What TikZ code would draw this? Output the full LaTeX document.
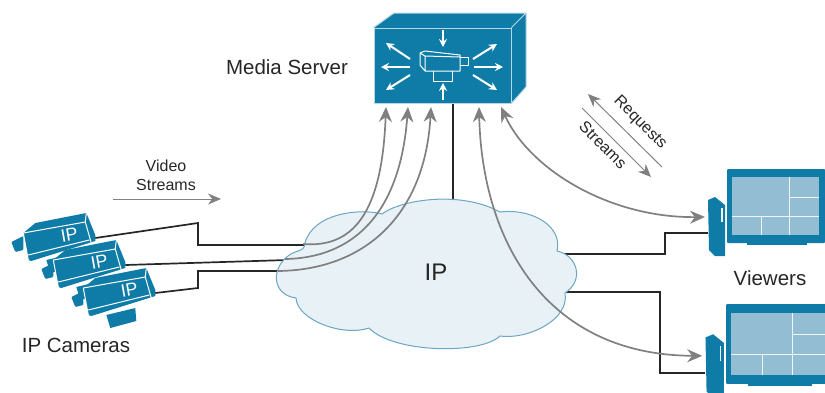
\documentclass[tikz,border=0pt]{standalone}
\usepackage{fontspec}
\setmainfont{Liberation Sans}
\usetikzlibrary{arrows.meta}
\definecolor{ciscoblue}{HTML}{0F7CA8}
\definecolor{screenblue}{HTML}{93BDD3}
\definecolor{cloudfill}{HTML}{E8F1F6}
\definecolor{cloudline}{HTML}{6BA6C4}
\definecolor{streamgray}{HTML}{808080}

\tikzset{
    x=1pt, y=-1pt,
    label/.style={font=\fontsize{20.5}{24}\selectfont, text=black!85, inner sep=0pt},
    smalllabel/.style={font=\fontsize{16}{19}\selectfont, text=black!85, inner sep=0pt, align=center},
    wire/.style={draw=black!85, line width=1.7pt},
    stream/.style={draw=streamgray, line width=1.7pt, {Stealth[length=15pt,width=13pt]}-{Stealth[length=15pt,width=13pt]}},
    instream/.style={draw=streamgray, line width=1.7pt, -{Stealth[length=15pt,width=13pt]}},
    thinarr/.style={draw=streamgray, line width=1pt, -{Stealth[length=13pt,width=11pt]}},
    iconline/.style={draw=white, line width=1pt, line join=round},
    whitearr/.style={draw=white, line width=2pt, -{Stealth[length=8pt,width=8pt]}},
    ipcam/.pic={
        % stand, lens, body
        \fill[ciscoblue] (23,27) -- (52,20) -- (53,33) -- (27,40) -- cycle;
        \fill[ciscoblue, rounded corners=1pt] (-12,9) -- (0,3) -- (0,17) -- (-8,19) -- cycle;
        \fill[ciscoblue] (0,0) -- (12,-10) -- (63,-20) -- (72,2) -- (72,8) -- (8,28) -- (5,27) -- cycle;
        \draw[iconline] (0,0) -- (62,-11) -- (63,-20) (62,-11) -- (68,10) (5,22) -- (66,7) (0,0) -- (5,27);
        \node[font=\fontsize{18}{20}\selectfont, text=white, inner sep=0pt, rotate=10] (-text) at (46,2) {IP};
        \coordinate (-out) at (72,5);
    },
    viewer/.pic={
        \fill[ciscoblue] (20,73) rectangle (80,76);
        \fill[ciscoblue, rounded corners=1pt] (0,0) rectangle (98,74);
        \fill[screenblue] (5,8) rectangle (92,66);
        \draw[draw=white!85!screenblue, line width=1pt] (62,8) -- (62,66) (5,47) -- (92,47) (62,28) -- (92,28) (34,47) -- (34,66);
        \fill[ciscoblue] (-19,31) -- (-12,28) -- (-2,36) -- (-2,87) -- (-12,87) -- (-18,81) -- cycle;
        \draw[draw=white!85!screenblue, line width=1.2pt] (-5,39) -- (-5,53);
        \coordinate (-tower) at (-19,64);
        \coordinate (-tip) at (-22,48);
    },
}

\begin{document}
\begin{tikzpicture}
\clip (0,0) rectangle (825,392);

% IP cameras
\pic (camA) at (23.3,233) {ipcam};
\pic (camB) at (53.3,260) {ipcam};
\pic (camC) at (83.3,288) {ipcam};
\node[label] (camtitle) at (76,345) {IP Cameras};

% Viewers
\pic (viewA) at (727,169) {viewer};
\pic[scale=1.08] (viewB) at (726,304) {viewer};
\node[label] (viewtitle) at (770,278) {Viewers};

% Media server
\fill[ciscoblue] (394,13) -- (526,13) -- (526,87) -- (511,103) -- (374,103) -- (374,28) -- cycle;
\node[draw=white!70!ciscoblue, fill=ciscoblue, line width=1pt, minimum width=137pt, minimum height=75pt, inner sep=0pt] (server) at (442.5,65.5) {};
\draw[draw=white!70!ciscoblue, line width=1pt] (server.north west) -- (394,13) -- (526,13) -- (526,87) -- (server.south east) (server.north east) -- (526,13);
\node[label] (servertitle) at (287,67) {Media Server};

% Server icon
\draw[iconline] (420,53) -- (425,51) -- (460,55) -- (460,71) -- (425,71) -- (420,65) -- cycle (425,56) -- (460,57) (425,56) -- (425,71) (420,53) -- (425,56);
\draw[iconline] (460,57) -- (468,57) -- (468,65) -- (460,65);
\draw[iconline] (433,71) -- (433,81) -- (452,81) -- (452,71);
\draw[whitearr] (443,30) -- (443,47);
\draw[whitearr] (443,100) -- (443,83);
\draw[whitearr] (410,67) -- (381,67);
\draw[whitearr] (410,59) -- (386,43);
\draw[whitearr] (410,75) -- (386,90);
\draw[whitearr] (474,67) -- (503,67);
\draw[whitearr] (473,59) -- (497,44);
\draw[whitearr] (473,75) -- (497,90);

% Points on the cloud
\coordinate (cloudA) at (320,245);
\coordinate (cloudB) at (320,259);
\coordinate (cloudC) at (320,271);
\coordinate (cloudTop) at (453,210);
\coordinate (cloudD) at (550,254);
\coordinate (cloudE) at (550,292);

% Black links, under the cloud
\draw[wire] (camA-out) -- (198,223) |- (cloudA);
\draw[wire] (camB-out) -- (cloudB);
\draw[wire] (camC-out) -- (198,288) |- (cloudC);
\draw[wire] (server.south -| cloudTop) -- (cloudTop);
\draw[wire] (cloudD) -- (665,254) |- (viewA-tower);
\draw[wire] (cloudE) -- (660,292) |- (viewB-tower);

% Cloud
\fill[cloudfill, draw=cloudline, line width=1pt] (305,243)
    .. controls (313,213) and (360,208) .. (382,214)
    .. controls (400,200) and (460,190) .. (500,212)
    .. controls (533,208) and (563,227) .. (557,251)
    .. controls (577,255) and (585,280) .. (565,293)
    .. controls (570,320) and (527,340) .. (500,336)
    .. controls (480,355) and (393,353) .. (369,328)
    .. controls (343,337) and (297,320) .. (296,298)
    .. controls (273,295) and (270,270) .. (288,256)
    .. controls (295,250) and (305,252) .. (305,243) -- cycle;
\node[font=\fontsize{24}{28}\selectfont, text=black!85, inner sep=0pt] (cloud) at (436,272) {IP};

% Gray streams
\coordinate (srvA) at (386,107);
\coordinate (srvB) at (408,107);
\coordinate (srvC) at (431,107);
\coordinate (srvD) at (479,107);
\coordinate (srvE) at (501,107);
\coordinate (startA) at (303,244);
\coordinate (startB) at (285,259);
\coordinate (startC) at (278,271);
\draw[instream] (startA) .. controls (352,248) and (382,215) .. (srvA);
\draw[instream] (startB) .. controls (352,258) and (400,215) .. (srvB);
\draw[instream] (startC) .. controls (365,270) and (425,215) .. (srvC);
\draw[stream] (srvD) .. controls (482,240) and (545,355) .. (viewB-tip);
\draw[stream] (srvE) .. controls (530,170) and (610,218) .. (viewA-tip);

% Flow labels
\node[smalllabel] (videolabel) at (166,175) {Video\\Streams};
\coordinate (videostart) at (113,199);
\coordinate (videoend) at (221,199);
\draw[thinarr] (videostart) -- (videoend);
\coordinate (reqstart) at (662,167);
\coordinate (reqend) at (588,94);
\coordinate (strstart) at (582,108);
\coordinate (strend) at (651,177);
\draw[thinarr] (reqstart) -- (reqend);
\draw[thinarr] (strstart) -- (strend);
\node[smalllabel, rotate=-45] (reqlabel) at (640,123) {Requests};
\node[smalllabel, rotate=-45] (strlabel) at (603,145) {Streams};

\end{tikzpicture}
\end{document}
